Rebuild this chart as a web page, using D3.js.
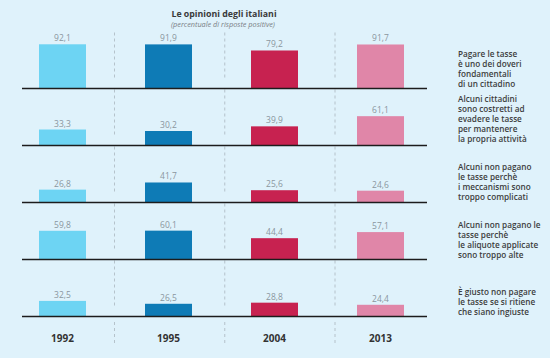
<!DOCTYPE html>
<html><head><meta charset="utf-8">
<script src="https://cdn.jsdelivr.net/npm/d3@7"></script>
<style>
html,body{margin:0;padding:0;background:#dff2fb;}
svg{display:block;font-family:"Open Sans",sans-serif;}
</style></head>
<body>
<svg id="chart" width="550" height="358"></svg>
<script>
const years = ["1992","1995","2004","2013"];
const questions = [
  ["Pagare le tasse","è uno dei doveri","fondamentali","di un cittadino"],
  ["Alcuni cittadini","sono costretti ad","evadere le tasse","per mantenere","la propria attività"],
  ["Alcuni non pagano","le tasse perchè","i meccanismi sono","troppo complicati"],
  ["Alcuni non pagano le","tasse perchè","le aliquote applicate","sono troppo alte"],
  ["È giusto non pagare","le tasse se si ritiene","che siano ingiuste"]
];
const values1992 = [92.1, 33.3, 26.8, 59.8, 32.5];
const values1995 = [91.9, 30.2, 41.7, 60.1, 26.5];
const values2004 = [79.2, 39.9, 25.6, 44.4, 28.8];
const values2013 = [91.7, 61.1, 24.6, 57.1, 24.4];
const seriesValues = [values1992, values1995, values2004, values2013];
const colors = ["#6dd4f3", "#0e7bb6", "#c72250", "#e086a8"];
const title = "Le opinioni degli italiani";
const subtitle = "(percentuale di risposte positive)";

const svg = d3.select("#chart");
const fmt = d3.formatLocale({decimal: ",", thousands: ".", grouping: [3], currency: ["", "€"]}).format(".1f");

const x = d3.scaleBand().domain(years).range([39, 404]).paddingInner(0.5566).paddingOuter(0);
const sep = d3.scalePoint().domain(d3.range(years.length - 1)).range([114.5, 335]);
const panel = d3.scalePoint().domain(d3.range(questions.length)).range([88.5, 316.5]);
const h = d3.scaleLinear().domain([0, 100]).range([0, 48]);

// title
svg.append("text").attr("x", 224).attr("y", 16.8).attr("text-anchor", "middle")
  .attr("font-size", 8.8).attr("font-weight", 700).attr("fill", "#3a3a3a").text(title);
svg.append("text").attr("x", 223).attr("y", 27.3).attr("text-anchor", "middle")
  .attr("font-size", 7.3).attr("font-style", "italic").attr("fill", "#7a7f85").text(subtitle);

// separators
const sepG = svg.append("g");
questions.forEach((q, i) => {
  const base = panel(i);
  sep.domain().forEach(k => {
    sepG.append("line").attr("x1", sep(k)).attr("x2", sep(k))
      .attr("y1", base - 56).attr("y2", base - 10)
      .attr("stroke", "#a9b6bf").attr("stroke-width", 0.8).attr("stroke-dasharray", "3,3");
  });
});
sep.domain().forEach(k => {
  sepG.append("line").attr("x1", sep(k)).attr("x2", sep(k))
    .attr("y1", 322).attr("y2", 344)
    .attr("stroke", "#a9b6bf").attr("stroke-width", 0.8).attr("stroke-dasharray", "3,3");
});

// panels
questions.forEach((q, i) => {
  const base = panel(i);
  const g = svg.append("g");
  years.forEach((yr, j) => {
    const v = seriesValues[j][i];
    g.append("rect").attr("x", x(yr)).attr("width", x.bandwidth())
      .attr("y", base - h(v)).attr("height", h(v)).attr("fill", colors[j]);
    g.append("text").attr("x", x(yr) + x.bandwidth() / 2).attr("y", base - h(v) - 3)
      .attr("text-anchor", "middle").attr("font-size", 8.5).attr("fill", "#8a969e").text(fmt(v));
  });
  g.append("line").attr("x1", 22).attr("x2", 427).attr("y1", base).attr("y2", base)
    .attr("stroke", "#1c1c1c").attr("stroke-width", 1.5);
  const t = g.append("text").attr("x", 458).attr("font-size", 8.2).attr("fill", "#3d3d3d").attr("font-weight", 600);
  const lh = 9.8;
  const top = [57.2, 102.3, 170.3, 228.3, 295.3][i];
  q.forEach((line, k) => {
    t.append("tspan").attr("x", 458).attr("y", top + k * lh).text(line);
  });
});

// year labels
years.forEach(yr => {
  svg.append("text").attr("x", x(yr) + x.bandwidth() / 2).attr("y", 342)
    .attr("text-anchor", "middle").attr("font-size", 10).attr("font-weight", 700)
    .attr("fill", "#333").text(yr);
});
</script>
</body></html>
